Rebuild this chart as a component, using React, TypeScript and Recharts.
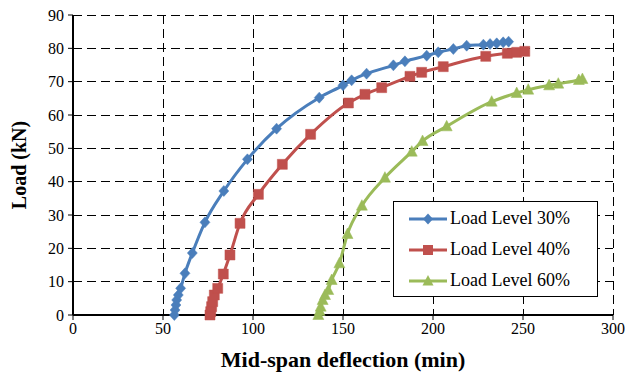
import { LineChart, Line, XAxis, YAxis, CartesianGrid, Legend } from 'recharts'

const BLUE = '#4a7ebb'
const RED = '#c0504d'
const GREEN = '#9bbb59'
const FONT = '"Liberation Serif", "Times New Roman", serif'

const xTicks = [0, 50, 100, 150, 200, 250, 300]
const yTicks = [0, 10, 20, 30, 40, 50, 60, 70, 80, 90]

// Load level 30%
const defl30 = [56.3, 56.7, 57.2, 57.6, 58.5, 59.8, 62.2, 66.3, 73.3, 83.8, 96.9, 113.1, 136.8, 150.0, 154.8, 163.1, 178.0, 184.4, 196.5, 202.9, 211.3, 218.7, 228.0, 231.7, 235.4, 239.0, 242.0]
const load30 = [0, 1.5, 3, 4.5, 6, 8, 12.5, 18.6, 27.8, 37.2, 46.7, 55.9, 65.2, 68.9, 70.4, 72.4, 74.9, 76.1, 77.8, 78.8, 79.8, 80.8, 81.1, 81.3, 81.5, 81.8, 82.0]

// Load level 40%
const defl40 = [76.1, 76.5, 77.0, 77.6, 78.5, 80.4, 83.5, 87.2, 92.8, 103.0, 116.3, 132.0, 153.0, 162.2, 171.5, 187.2, 193.7, 205.7, 229.3, 241.3, 246.5, 251.0]
const load40 = [0, 1, 2.5, 4, 6, 8, 12.3, 18, 27.5, 36.2, 45.2, 54.2, 63.6, 66.2, 68.2, 71.6, 72.8, 74.5, 77.6, 78.5, 78.8, 79.1]

// Load level 60%
const defl60 = [136.3, 137.0, 137.6, 138.7, 140.0, 141.8, 143.7, 148.0, 152.5, 160.5, 173.3, 188.2, 194.2, 207.6, 232.6, 246.5, 252.9, 264.5, 269.6, 281.0, 283.0]
const load60 = [0, 1.2, 2.5, 4.5, 6, 7.5, 10.5, 15.5, 24.3, 32.8, 41.2, 49, 52.2, 56.6, 64.0, 66.6, 67.6, 68.9, 69.4, 70.5, 70.8]

const toPoints = (xs: number[], ys: number[]) => xs.map((x, i) => ({ x, y: ys[i] }))

const series = [
  { name: 'Load Level 30%', color: BLUE, shape: 'diamond', data: toPoints(defl30, load30) },
  { name: 'Load Level 40%', color: RED, shape: 'square', data: toPoints(defl40, load40) },
  { name: 'Load Level 60%', color: GREEN, shape: 'triangle', data: toPoints(defl60, load60) },
]

function markerPath(shape: string, cx: number, cy: number) {
  if (shape === 'diamond') return `M${cx},${cy - 5.5}L${cx + 5},${cy}L${cx},${cy + 5.5}L${cx - 5},${cy}Z`
  if (shape === 'square') return `M${cx - 5},${cy - 5}h10v10h-10Z`
  return `M${cx},${cy - 6}L${cx + 5.5},${cy + 4.5}L${cx - 5.5},${cy + 4.5}Z`
}

const makeDot = (shape: string, color: string) => (props: any) => {
  const { cx, cy, index } = props
  if (cx == null || cy == null) return <g key={`e-${shape}-${index}`} />
  return <path key={`${shape}-${index}`} d={markerPath(shape, cx, cy)} fill={color} stroke={color} strokeWidth={0.5} />
}

function LegendBox() {
  return (
    <div
      style={{
        border: '1px solid #000',
        background: '#fff',
        padding: '1px 0 0 14px',
        fontFamily: FONT,
        fontSize: 18,
        color: '#000',
        boxSizing: 'border-box',
        width: 205,
        height: 96,
      }}
    >
      {series.map((s) => (
        <div key={s.name} style={{ display: 'flex', alignItems: 'center', height: 31, lineHeight: '31px' }}>
          <svg width={40} height={14} style={{ marginRight: 2 }}>
            <line x1={1} y1={7} x2={39} y2={7} stroke={s.color} strokeWidth={3} />
            <path d={markerPath(s.shape, 20, 7)} fill={s.color} />
          </svg>
          <span style={{ fontFamily: FONT }}>{s.name}</span>
        </div>
      ))}
    </div>
  )
}

export default function App() {
  return (
    <div style={{ position: 'absolute', left: 0, top: 0, background: '#fff' }}>
      <LineChart width={625} height={375} margin={{ top: 15, right: 12, bottom: 30, left: 0 }}>
        <CartesianGrid stroke="#000" strokeDasharray="9 5" strokeWidth={1} shapeRendering="crispEdges" />
        <XAxis
          type="number"
          dataKey="x"
          domain={[0, 300]}
          ticks={xTicks}
          interval={0}
          height={30}
          tickSize={5}
          tickMargin={3}
          axisLine={{ stroke: '#000', strokeWidth: 2 }}
          tickLine={{ stroke: '#000' }}
          tick={{ fill: '#000', fontFamily: FONT, fontSize: 16 }}
          label={{
            value: 'Mid-span deflection (min)',
            position: 'bottom',
            offset: 6,
            style: { fill: '#000', fontFamily: FONT, fontSize: 22, fontWeight: 'bold' },
          }}
        />
        <YAxis
          type="number"
          domain={[0, 90]}
          ticks={yTicks}
          interval={0}
          width={73}
          tickSize={5}
          tickMargin={4}
          axisLine={{ stroke: '#000', strokeWidth: 2 }}
          tickLine={{ stroke: '#000' }}
          tick={{ fill: '#000', fontFamily: FONT, fontSize: 16 }}
          label={{
            value: 'Load (kN)',
            angle: -90,
            position: 'insideLeft',
            offset: 19,
            style: { fill: '#000', fontFamily: FONT, fontSize: 20, fontWeight: 'bold', textAnchor: 'middle' },
          }}
        />
        {series.map((s) => (
          <Line
            key={s.name}
            data={s.data}
            dataKey="y"
            name={s.name}
            type="monotone"
            stroke={s.color}
            strokeWidth={3}
            dot={makeDot(s.shape, s.color)}
            activeDot={false}
            isAnimationActive={false}
          />
        ))}
        <Legend
          layout="horizontal"
          verticalAlign="middle"
          align="center"
          content={() => <LegendBox />}
          wrapperStyle={{ left: 393, top: 201, width: 205, height: 96 }}
        />
      </LineChart>
    </div>
  )
}
